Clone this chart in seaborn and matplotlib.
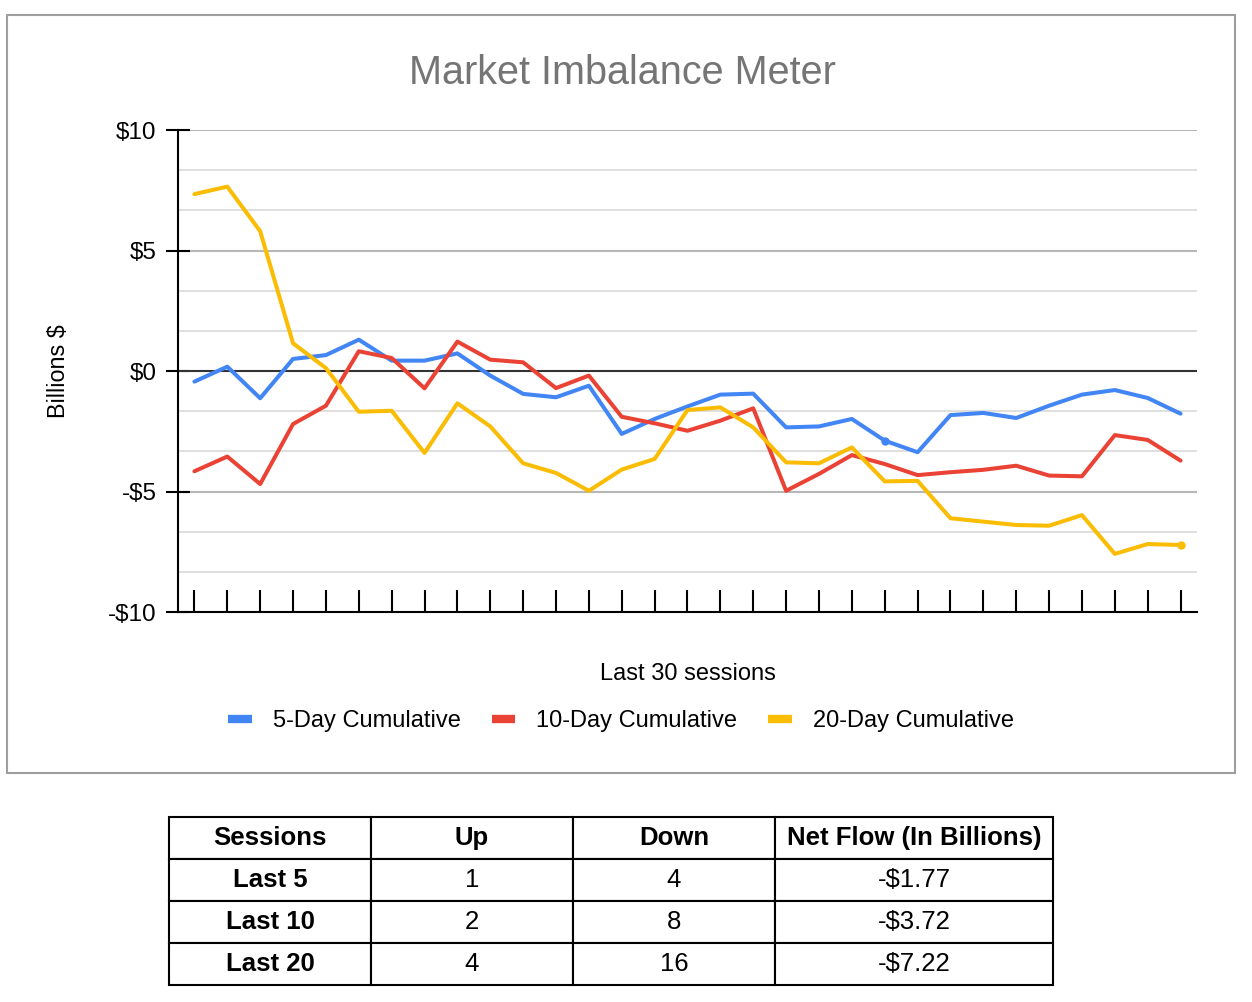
import numpy as np
import pandas as pd
import matplotlib
matplotlib.use('Agg')
import matplotlib.pyplot as plt
import seaborn as sns
from matplotlib.patches import Rectangle
from matplotlib.ticker import MultipleLocator, FuncFormatter

# Values (billions $), one per session
five_day = [-0.44, 0.18, -1.13, 0.50, 0.66, 1.30, 0.43, 0.43, 0.73, -0.19,
            -0.95, -1.09, -0.61, -2.61, -1.99, -1.47, -0.98, -0.94, -2.34, -2.30,
            -1.99, -2.89, -3.37, -1.83, -1.74, -1.95, -1.44, -0.98, -0.79, -1.12, -1.77]
ten_day = [-4.16, -3.55, -4.69, -2.20, -1.44, 0.82, 0.54, -0.72, 1.22, 0.47,
           0.36, -0.71, -0.19, -1.90, -2.17, -2.48, -2.06, -1.55, -4.97, -4.27,
           -3.49, -3.86, -4.32, -4.20, -4.10, -3.93, -4.34, -4.37, -2.66, -2.86, -3.72]
twenty_day = [7.34, 7.65, 5.80, 1.15, 0.12, -1.69, -1.65, -3.40, -1.34, -2.30,
              -3.83, -4.23, -4.97, -4.09, -3.65, -1.62, -1.51, -2.34, -3.79, -3.83,
              -3.17, -4.58, -4.56, -6.11, -6.25, -6.39, -6.42, -5.98, -7.59, -7.18, -7.22]
series_names = ['5-Day Cumulative', '10-Day Cumulative', '20-Day Cumulative']
series_colors = ['#4285F4', '#EA4335', '#FBBC04']

table_header = ['Sessions', 'Up', 'Down', 'Net Flow (In Billions)']
table_sessions = ['Last 5', 'Last 10', 'Last 20']
table_up = ['1', '2', '4']
table_down = ['4', '8', '16']
table_net = ['-$1.77', '-$3.72', '-$7.22']

sessions = np.arange(len(five_day))
df = pd.DataFrame({
    'session': np.tile(sessions, 3),
    'value': five_day + ten_day + twenty_day,
    'series': np.repeat(series_names, len(sessions)),
})

sns.set_theme(style='white')
plt.rcParams['font.family'] = ['Liberation Sans', 'DejaVu Sans']
plt.rcParams['text.color'] = 'black'
plt.rcParams['axes.labelcolor'] = 'black'
plt.rcParams['xtick.color'] = 'black'
plt.rcParams['ytick.color'] = 'black'

fig = plt.figure(figsize=(12.52, 10.02), dpi=100)
W, H = 1252, 1002

# outer chart border
fig.patches.append(Rectangle((7 / W, 1 - 773 / H), 1228 / W, 758 / H,
                             transform=fig.transFigure, fill=False,
                             edgecolor='#9e9e9e', linewidth=1.5))

ax = fig.add_axes([178 / W, 1 - 612 / H, (1197 - 178) / W, (612 - 130) / H])
sns.lineplot(data=df, x='session', y='value', hue='series',
             palette=dict(zip(series_names, series_colors)),
             linewidth=2.9, ax=ax, legend=True)

# highlighted points
ax.plot(sessions[21], five_day[21], 'o', color=series_colors[0], markersize=5)
ax.plot(sessions[-1], twenty_day[-1], 'o', color=series_colors[2], markersize=5)

ax.set_xlim(-0.5, len(sessions) - 0.5)
ax.set_ylim(-10, 10)
ax.yaxis.set_major_locator(MultipleLocator(5))
ax.yaxis.set_minor_locator(MultipleLocator(5 / 3))
ax.yaxis.set_major_formatter(FuncFormatter(lambda v, p: f'-${abs(v):.0f}' if v < 0 else f'${v:.0f}'))
ax.set_xticks(sessions)
ax.set_xticklabels([])
ax.tick_params(axis='x', direction='in', length=16, width=1.5, color='black', bottom=True)
ax.tick_params(axis='y', which='major', direction='inout', length=17, width=1.5,
               color='black', left=True, labelsize=17.5, pad=7, labelcolor='black')
ax.tick_params(axis='y', which='minor', left=False)

ax.grid(False)
for v in [10, 5, -5]:
    ax.axhline(v, color='#b7b7b7', linewidth=1.5, zorder=0)
for v in np.arange(-10, 10, 5 / 3):
    if abs(round(v / 5) * 5 - v) > 0.1:
        ax.axhline(v, color='#dcdcdc', linewidth=1.3, zorder=0)
ax.axhline(0, color='#333333', linewidth=1.5, zorder=1)

for side in ['top', 'right']:
    ax.spines[side].set_visible(False)
ax.spines['left'].set_color('black')
ax.spines['left'].set_linewidth(1.5)
ax.spines['bottom'].set_color('black')
ax.spines['bottom'].set_linewidth(1.5)

ax.set_xlabel('Last 30 sessions', fontsize=17, color='black', labelpad=33)
ax.set_ylabel('Billions $', fontsize=16.8, color='black', labelpad=27)
fig.text(622 / W, 1 - 73 / H, 'Market Imbalance Meter', fontsize=28.5,
         color='#757575', ha='center', va='center')

handles, labels = ax.get_legend_handles_labels()
ax.get_legend().remove()
leg = fig.legend(handles, labels, loc='center', bbox_to_anchor=(621 / W, 1 - 721 / H),
                 ncol=3, frameon=False, fontsize=17, handlelength=1.0,
                 columnspacing=1.3, handletextpad=0.9)
for line in leg.get_lines():
    line.set_linewidth(6)
    line.set_solid_capstyle('butt')

# summary table
tax = fig.add_axes([169 / W, 1 - 985 / H, (1053 - 169) / W, (985 - 817) / H])
tax.axis('off')
cells = [[s, u, d, n] for s, u, d, n in zip(table_sessions, table_up, table_down, table_net)]
col_w = np.array([202, 202, 202, 278], dtype=float)
tbl = tax.table(cellText=cells, colLabels=table_header, colWidths=list(col_w / col_w.sum()),
                cellLoc='center', bbox=[0, 0, 1, 1])
tbl.auto_set_font_size(False)
for (r, c), cell in tbl.get_celld().items():
    cell.set_edgecolor('black')
    cell.set_linewidth(1.5)
    txt = cell.get_text()
    txt.set_fontsize(18.5)
    txt.set_color('black')
    if r == 0 or c == 0:
        txt.set_fontweight('bold')

fig.savefig('out.png', dpi=100)
